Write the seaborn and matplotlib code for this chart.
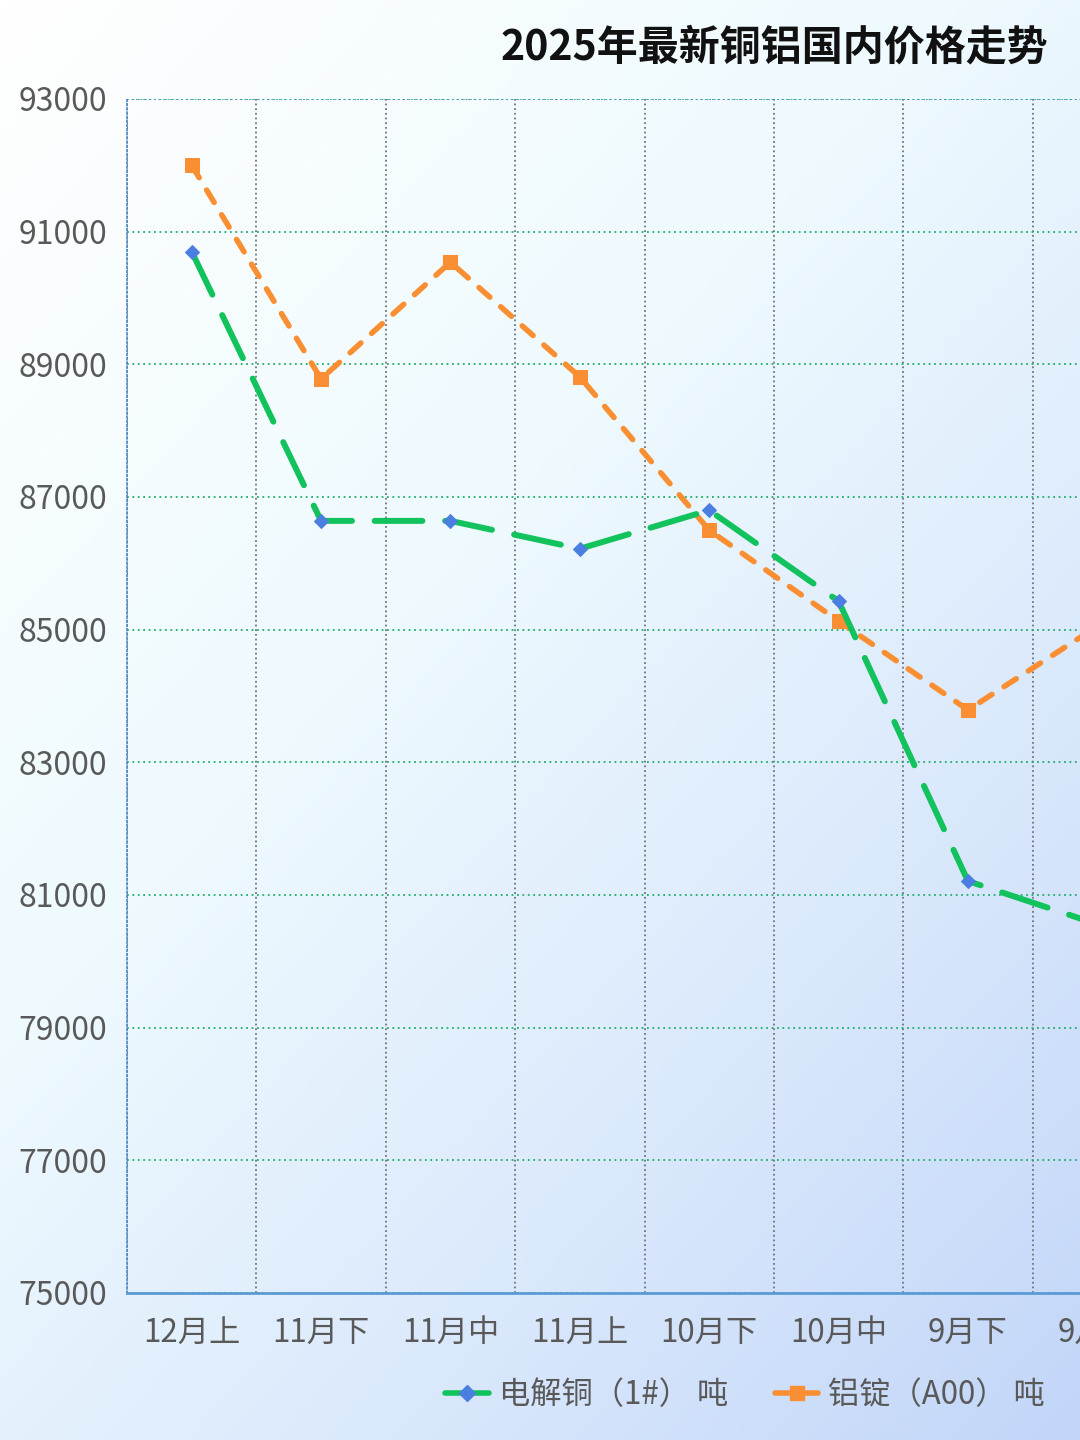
import numpy as np
import pandas as pd
import seaborn as sns
import matplotlib.pyplot as plt
from matplotlib.colors import LinearSegmentedColormap
from matplotlib.lines import Line2D
from matplotlib.ticker import MultipleLocator

# Data (copper / aluminium, yuan per ton)
periods = ['12月上', '11月下', '11月中', '11月上', '10月下', '10月中', '9月下', '9月中']
copper = [90700, 86640, 86640, 86220, 86800, 85430, 81210, 80560]
aluminium = [92000, 88780, 90540, 88810, 86500, 85130, 83790, 85050]
yticks = [75000, 77000, 79000, 81000, 83000, 85000, 87000, 89000, 91000, 93000]

copper_label = '电解铜（1#） 吨'
alu_label = '铝锭（A00） 吨'
title = '2025年最新铜铝国内价格走势'

df = pd.DataFrame({'period': periods, 'copper': copper, 'aluminium': aluminium})

sns.set_theme(style='white')
plt.rcParams['font.family'] = ['Noto Sans CJK SC', 'DejaVu Sans']

fig = plt.figure(figsize=(10.8, 14.4), dpi=100)

# background gradient
bg = fig.add_axes([0, 0, 1, 1], zorder=-10)
gx, gy = np.meshgrid(np.linspace(0, 1, 200), np.linspace(0, 1, 260))
grad = 0.45 * gx + 0.55 * gy
cmap = LinearSegmentedColormap.from_list(
    'bg', [(0, '#ffffff'), (0.4, '#eefafe'), (0.7, '#dbe9fc'), (1, '#c2d6f8')])
bg.imshow(grad, cmap=cmap, aspect='auto', extent=[0, 1, 1, 0], vmin=0, vmax=1)
bg.set_xlim(0, 1)
bg.set_ylim(1, 0)
bg.axis('off')

ax = fig.add_axes([127 / 1080, 1 - 1293 / 1440, 1035 / 1080, 1194 / 1440])
ax.set_facecolor('none')

sns.lineplot(data=df, x='period', y='copper', sort=False, ax=ax,
             color='#12c25c', linewidth=4.3, marker='D', markersize=7,
             markerfacecolor='#4a7ee0', markeredgecolor='#4a7ee0',
             dashes=False, zorder=4)
sns.lineplot(data=df, x='period', y='aluminium', sort=False, ax=ax,
             color='#f98f32', linewidth=4.0, marker='s', markersize=10,
             markerfacecolor='#f98f32', markeredgecolor='#f98f32',
             dashes=False, zorder=3)
ax.lines[0].set_dashes([8, 3.8])
ax.lines[0].set_dash_capstyle('round')
ax.lines[1].set_dashes([2.6, 2.6])
ax.lines[1].set_dash_capstyle('round')

ax.set_xlim(-0.5, len(periods) - 0.5)
ax.set_ylim(75000, 93000)
ax.set_yticks(yticks)
ax.set_yticklabels([str(v) for v in yticks])
ax.xaxis.set_minor_locator(MultipleLocator(1, offset=0.5))

ax.grid(axis='y', which='major', color='#1fae6a', linestyle=(0, (1, 2)), linewidth=1.3)
ax.grid(axis='x', which='minor', color='#6f747c', linestyle=(0, (1, 1.6)), linewidth=1.3)
ax.grid(axis='x', which='major', visible=False)

ax.tick_params(axis='both', which='both', length=0)
ax.tick_params(axis='y', labelsize=23, labelcolor='#595959', pad=14)
ax.tick_params(axis='x', labelsize=22.5, labelcolor='#595959', pad=17)
ax.set_xlabel('')
ax.set_ylabel('')

for side in ['top', 'right']:
    ax.spines[side].set_visible(False)
ax.spines['left'].set_color('#4f86c6')
ax.spines['left'].set_linestyle((0, (1, 1.5)))
ax.spines['left'].set_linewidth(1.2)
ax.spines['bottom'].set_color('#5b9bd5')
ax.spines['bottom'].set_linewidth(2)
ax.axhline(93000, color='#4a90c8', linestyle=(0, (1, 1.5)), linewidth=1.3, zorder=2)

fig.text(1048 / 1080, 1 - 47 / 1440, title, ha='right', va='center',
         fontsize=29.5, fontweight='bold', color='#111111')

handles = [
    Line2D([0], [0], color='#12c25c', linewidth=4, marker='D', markersize=8,
           markerfacecolor='#4a7ee0', markeredgecolor='#4a7ee0'),
    Line2D([0], [0], color='#f98f32', linewidth=4, marker='s', markersize=10,
           markerfacecolor='#f98f32', markeredgecolor='#f98f32'),
]
fig.legend(handles, [copper_label, alu_label], loc='center',
           bbox_to_anchor=(745 / 1080, 1 - 1395 / 1440), ncol=2, frameon=False,
           fontsize=22.5, labelcolor='#595959', handlelength=1.4,
           handletextpad=0.3, columnspacing=1.5)

fig.savefig('out.png', dpi=100)
